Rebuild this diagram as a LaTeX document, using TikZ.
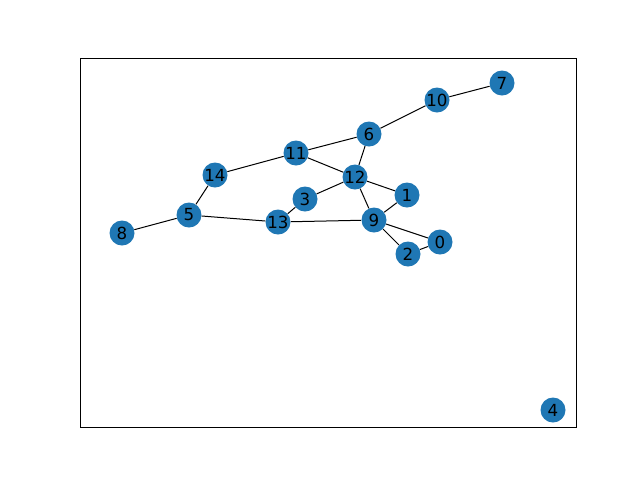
\documentclass[tikz,border=0pt]{standalone}
\usepackage{fontspec}
\setmainfont{DejaVu Sans}
\definecolor{nodeblue}{HTML}{1F77B4}
\begin{document}
\begin{tikzpicture}[x=0.75pt,y=-0.75pt,
  vtx/.style={circle,fill=nodeblue,draw=none,minimum size=18.75pt,inner sep=0pt,font=\fontsize{12.5}{14}\selectfont},
  edge/.style={draw=black,line width=0.75pt}]
\useasboundingbox (0,0) rectangle (640,480);
\draw[line width=0.6pt] (80,58) rectangle (576,427);
\node[vtx] (n0) at (440,242) {0};
\node[vtx] (n1) at (407,195) {1};
\node[vtx] (n2) at (408,254) {2};
\node[vtx] (n3) at (305,199) {3};
\node[vtx] (n4) at (553,410) {4};
\node[vtx] (n5) at (189,215) {5};
\node[vtx] (n6) at (369,134) {6};
\node[vtx] (n7) at (502,83) {7};
\node[vtx] (n8) at (122,233) {8};
\node[vtx] (n9) at (374,220) {9};
\node[vtx] (n10) at (437,100) {10};
\node[vtx] (n11) at (296,153) {11};
\node[vtx] (n12) at (355,177) {12};
\node[vtx] (n13) at (278,222) {13};
\node[vtx] (n14) at (215,175) {14};
\begin{scope}[on background layer/.style={}]
\end{scope}
\foreach \a/\b in {n7/n10,n10/n6,n6/n11,n6/n12,n11/n14,n11/n12,n12/n1,n12/n3,n12/n9,n3/n13,n13/n9,n13/n5,n5/n14,n5/n8,n9/n1,n9/n0,n9/n2,n2/n0}
  \draw[edge] (\a) -- (\b);
\end{tikzpicture}
\end{document}
